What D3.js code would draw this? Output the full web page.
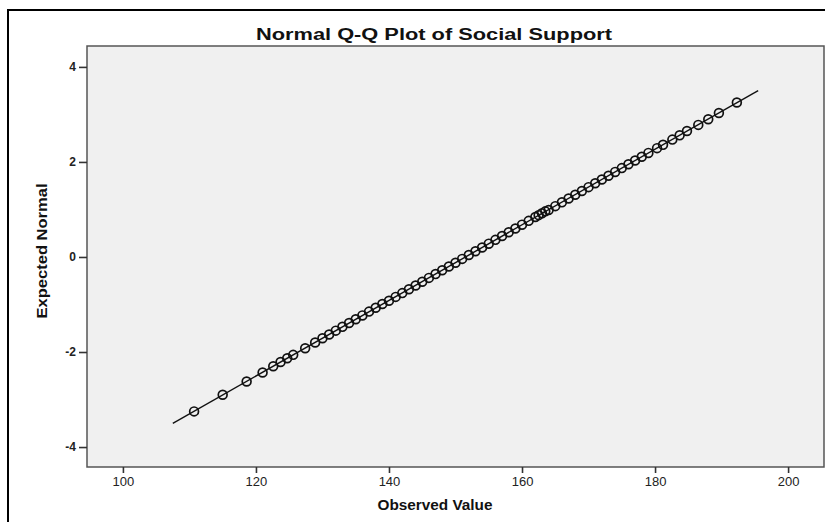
<!DOCTYPE html>
<html>
<head>
<meta charset="utf-8">
<script src="https://d3js.org/d3.v7.min.js"></script>
<style>
  body { margin: 0; background: #fff; }
  svg text { font-family: "Liberation Sans", Arial, sans-serif; fill: #111; }
</style>
</head>
<body>
<div id="chart"></div>
<script>
var observed = [110.7, 115.0, 118.6, 121.0, 122.6, 123.7, 124.7, 125.6, 127.4, 128.9,
  130, 131, 132, 133, 134, 135, 136, 137, 138, 139, 140, 141, 142, 143, 144, 145,
  146, 147, 148, 149, 150, 151, 152, 153, 154, 155, 156, 157, 158, 159, 160, 161,
  162, 162.5, 163, 163.5, 164, 165, 166, 167, 168, 169, 170, 171, 172, 173, 174,
  175, 176, 177, 178, 179, 180.3, 181.2, 182.6, 183.7, 184.8, 186.5, 188.0, 189.6, 192.3];

// expected normal values, one per observed value
var expected = [-3.25, -2.90, -2.62, -2.43, -2.30, -2.21, -2.13, -2.06, -1.92, -1.80,
  -1.71, -1.63, -1.55, -1.47, -1.39, -1.31, -1.23, -1.15, -1.07, -0.99, -0.92, -0.84,
  -0.76, -0.68, -0.60, -0.52, -0.44, -0.36, -0.28, -0.20, -0.12, -0.04, 0.04, 0.12,
  0.20, 0.28, 0.36, 0.44, 0.52, 0.60, 0.68, 0.76, 0.84, 0.88, 0.92, 0.96, 0.99,
  1.07, 1.15, 1.23, 1.31, 1.39, 1.47, 1.55, 1.63, 1.71, 1.79, 1.87, 1.95, 2.03,
  2.11, 2.19, 2.29, 2.36, 2.47, 2.56, 2.65, 2.78, 2.90, 3.03, 3.25];

// reference line end points (observed, expected)
var refLine = [[107.5, -3.5], [195.5, 3.5]];

var xTicks = [100, 120, 140, 160, 180, 200];
var yTicks = [-4, -2, 0, 2, 4];

var data = observed.map(function(d, i) { return {x: d, y: expected[i]}; });

var W = 825, H = 522;
var plot = {left: 87, top: 46, right: 824, bottom: 467};

var svg = d3.select("#chart").append("svg")
  .attr("width", W)
  .attr("height", H);

// outer frame
svg.append("rect")
  .attr("x", 8).attr("y", 10)
  .attr("width", 840).attr("height", 540)
  .attr("fill", "#fff")
  .attr("stroke", "#000")
  .attr("stroke-width", 2);

var x = d3.scaleLinear()
  .domain([94.6, 205.4])
  .range([plot.left, plot.right]);

var y = d3.scaleLinear()
  .domain([-4.42, 4.44])
  .range([plot.bottom, plot.top]);

// plot area
svg.append("rect")
  .attr("x", plot.left).attr("y", plot.top)
  .attr("width", plot.right - plot.left)
  .attr("height", plot.bottom - plot.top)
  .attr("fill", "#f0f0f0")
  .attr("stroke", "#555")
  .attr("stroke-width", 1.5);

// axes, plain hyphen for negatives like the original
var fmt = function(d) { return String(d); };
var xAxis = svg.append("g")
  .attr("transform", "translate(0," + plot.bottom + ")")
  .call(d3.axisBottom(x).tickValues(xTicks).tickSize(6).tickPadding(4).tickFormat(fmt));
var yAxis = svg.append("g")
  .attr("transform", "translate(" + plot.left + ",0)")
  .call(d3.axisLeft(y).tickValues(yTicks).tickSize(8).tickPadding(3).tickFormat(fmt));

[xAxis, yAxis].forEach(function(g) {
  g.select(".domain").remove();
  g.selectAll(".tick line").attr("stroke", "#333").attr("stroke-width", 1.6);
  g.selectAll(".tick text")
    .style("font-size", "13px")
    .style("fill", "#222");
});
yAxis.selectAll(".tick text").style("font-size", "12px").style("font-weight", "bold");

// reference line
svg.append("line")
  .attr("x1", x(refLine[0][0])).attr("y1", y(refLine[0][1]))
  .attr("x2", x(refLine[1][0])).attr("y2", y(refLine[1][1]))
  .attr("stroke", "#111")
  .attr("stroke-width", 1.4);

// points
svg.append("g").selectAll("circle")
  .data(data)
  .enter().append("circle")
  .attr("cx", function(d) { return x(d.x); })
  .attr("cy", function(d) { return y(d.y); })
  .attr("r", 4.4)
  .attr("fill", "none")
  .attr("stroke", "#111")
  .attr("stroke-width", 1.7);

// title and axis labels
svg.append("text")
  .attr("x", 434).attr("y", 40)
  .attr("text-anchor", "middle")
  .attr("font-size", "16px")
  .attr("font-weight", "bold")
  .attr("textLength", 356)
  .attr("lengthAdjust", "spacingAndGlyphs")
  .text("Normal Q-Q Plot of Social Support");

svg.append("text")
  .attr("x", 435).attr("y", 510)
  .attr("text-anchor", "middle")
  .attr("font-size", "14px")
  .attr("font-weight", "bold")
  .attr("textLength", 115)
  .attr("lengthAdjust", "spacingAndGlyphs")
  .text("Observed Value");

svg.append("text")
  .attr("transform", "translate(47,251) rotate(-90)")
  .attr("text-anchor", "middle")
  .attr("font-size", "14px")
  .attr("font-weight", "bold")
  .attr("textLength", 135)
  .attr("lengthAdjust", "spacingAndGlyphs")
  .text("Expected Normal");
</script>
</body>
</html>
